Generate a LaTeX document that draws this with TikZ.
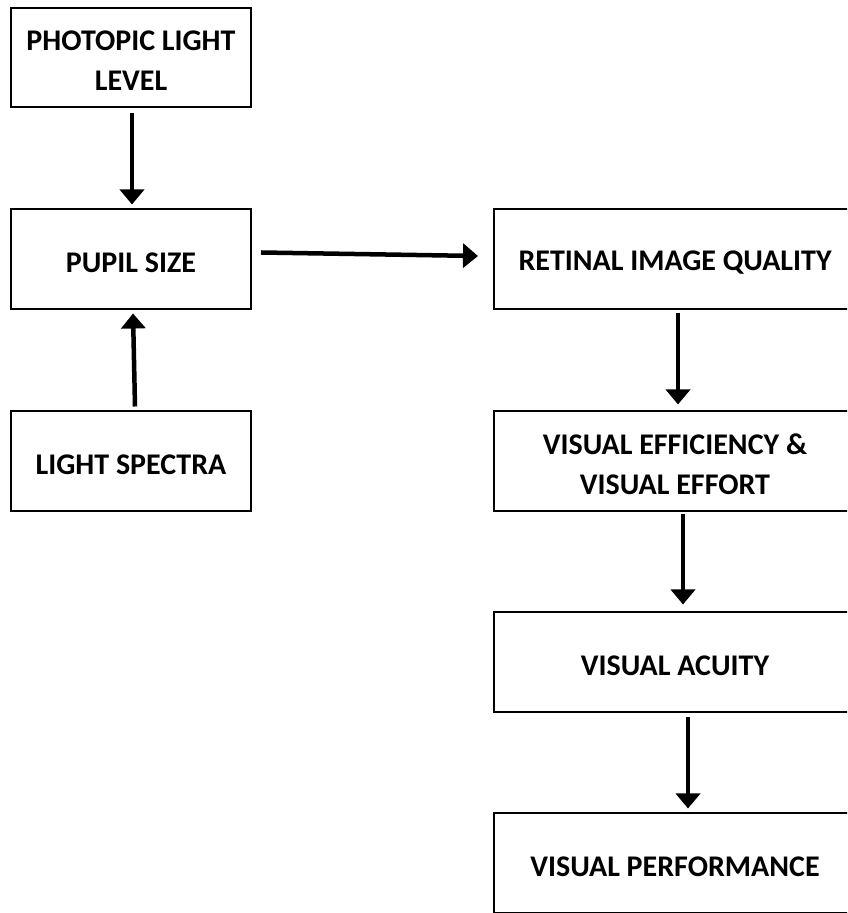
\documentclass[tikz,border=0pt]{standalone}
\usepackage{fontspec}
\setmainfont{Carlito}
\usetikzlibrary{arrows.meta}
\begin{document}
\begin{tikzpicture}[x=1pt,y=1pt,
  box/.style={draw=black,line width=2pt,fill=white,outer sep=0pt,inner sep=0pt,
    minimum height=100pt},
  txt/.style={align=center,inner sep=0pt,yshift=-3pt,
    font=\fontsize{30}{40}\selectfont\bfseries},
  leftbox/.style={box,minimum width=240pt},
  rightbox/.style={box,minimum width=362pt},
  flow/.style={line width=4.5pt,-{Triangle[width=24pt,length=15pt]}}]
\useasboundingbox (0,0) rectangle (847,913);
\clip (0,0) rectangle (847,913);
\fill[white] (0,0) rectangle (847,913);

% left column
\node[leftbox,minimum height=99pt,label={[txt]center:PHOTOPIC LIGHT\\LEVEL}] (photopic) at (131,855.5) {};
\node[leftbox,label={[txt]center:PUPIL SIZE}] (pupil) at (131,653.5) {};
\node[leftbox,label={[txt]center:LIGHT SPECTRA}] (spectra) at (131,451.5) {};

% right column
\node[rightbox,label={[txt]center:RETINAL IMAGE QUALITY}] (retinal) at (675,653.5) {};
\node[rightbox,label={[txt]center:VISUAL EFFICIENCY \&\\VISUAL EFFORT}] (effic) at (675,451.5) {};
\node[rightbox,label={[txt]center:VISUAL ACUITY}] (acuity) at (675,250.5) {};
\node[rightbox,label={[txt]center:VISUAL PERFORMANCE}] (perf) at (675,49.5) {};

% connectors
\draw[flow] ([xshift=1pt,yshift=-6pt]photopic.south) -- ([xshift=1pt,yshift=5pt]pupil.north);
\draw[flow] ([xshift=4pt,yshift=5pt]spectra.north) -- ([xshift=2pt,yshift=-4pt]pupil.south);
\draw[flow] ([xshift=10pt,yshift=7pt]pupil.east) -- ([xshift=-16pt,yshift=3.5pt]retinal.west);
\draw[flow] ([xshift=3pt,yshift=-4pt]retinal.south) -- ([xshift=3pt,yshift=7pt]effic.north);
\draw[flow] ([xshift=8pt,yshift=-3pt]effic.south) -- ([xshift=8pt,yshift=8pt]acuity.north);
\draw[flow] ([xshift=13pt,yshift=-5pt]acuity.south) -- ([xshift=13pt,yshift=5pt]perf.north);
\end{tikzpicture}
\end{document}
